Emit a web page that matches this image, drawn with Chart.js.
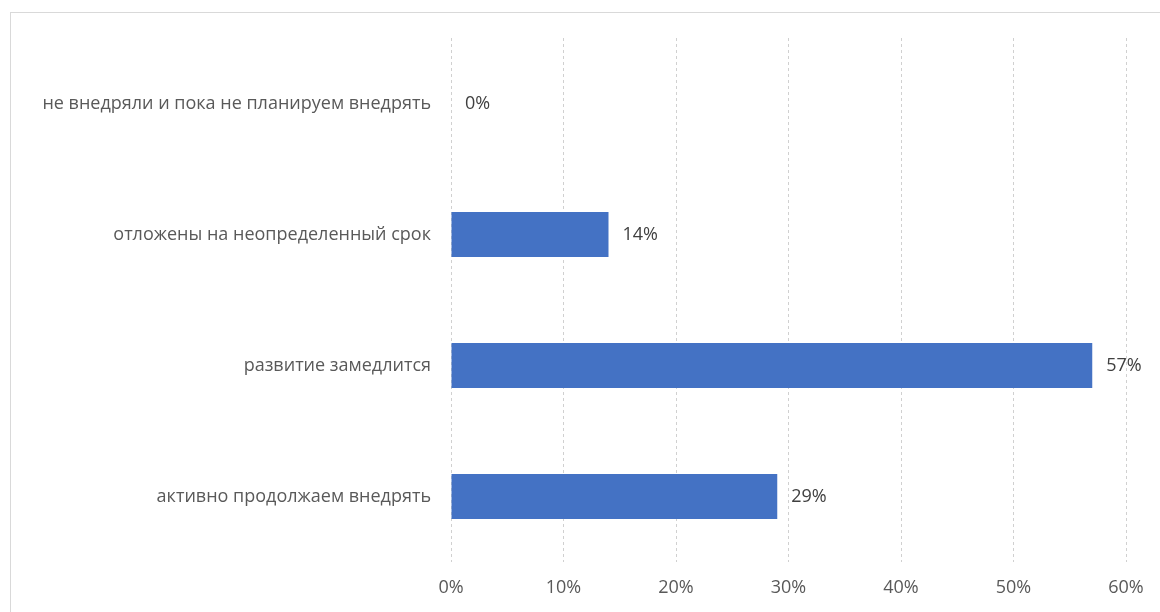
<!DOCTYPE html>
<html>
<head>
<meta charset="utf-8">
<script src="https://cdn.jsdelivr.net/npm/chart.js@4"></script>
<style>
  html, body { margin: 0; padding: 0; background: #fff; overflow: hidden; }
  #wrap { position: relative; width: 1160px; height: 612px; }
  #frame { position: absolute; left: 10px; top: 12px; width: 1200px; height: 700px; border: 1px solid #d9d9d9; box-sizing: border-box; }
  canvas { position: absolute; left: 0; top: 0; }
</style>
</head>
<body>
<div id="wrap">
  <div id="frame"></div>
  <canvas id="chart" width="1160" height="612"></canvas>
</div>
<script>
const categories = [
  "не внедряли и пока не планируем внедрять",
  "отложены на неопределенный срок",
  "развитие замедлится",
  "активно продолжаем внедрять"
];
const values = [0, 14, 57, 29];
const xTicks = [0, 10, 20, 30, 40, 50, 60];

const FONT = "'Open Sans', 'Liberation Sans', sans-serif";

// labels right of each bar
const valueLabels = {
  id: "valueLabels",
  afterDatasetsDraw(chart) {
    const ctx = chart.ctx;
    const meta = chart.getDatasetMeta(0);
    ctx.save();
    ctx.font = "18px " + FONT;
    ctx.fillStyle = "#404040";
    ctx.textAlign = "left";
    ctx.textBaseline = "middle";
    meta.data.forEach((bar, i) => {
      ctx.fillText(values[i] + "%", bar.x + 14, bar.y);
    });
    ctx.restore();
  }
};

new Chart(document.getElementById("chart"), {
  type: "bar",
  data: {
    labels: categories,
    datasets: [{
      data: values,
      backgroundColor: "#4472c4",
      borderWidth: 0,
      barPercentage: 0.345,
      categoryPercentage: 1
    }]
  },
  options: {
    indexAxis: "y",
    responsive: false,
    animation: false,
    layout: { padding: { top: 38, right: 34, left: 0, bottom: 0 } },
    plugins: { legend: { display: false }, tooltip: { enabled: false } },
    scales: {
      x: {
        min: 0,
        max: 60,
        afterBuildTicks: s => { s.ticks = xTicks.map(v => ({ value: v })); },
        afterFit: s => { s.height = 50; },
        grid: { color: "#d0d0d0", borderDash: [3, 3], drawTicks: false },
        border: { display: false, dash: [3, 3] },
        ticks: {
          padding: 15,
          color: "#595959",
          font: { family: FONT, size: 18 },
          callback: v => v + "%"
        }
      },
      y: {
        afterFit: s => { s.width = 451; },
        grid: { display: false, drawTicks: false },
        border: { display: false },
        ticks: {
          padding: 20,
          color: "#595959",
          font: { family: FONT, size: 18 }
        }
      }
    }
  },
  plugins: [valueLabels]
});
</script>
</body>
</html>
